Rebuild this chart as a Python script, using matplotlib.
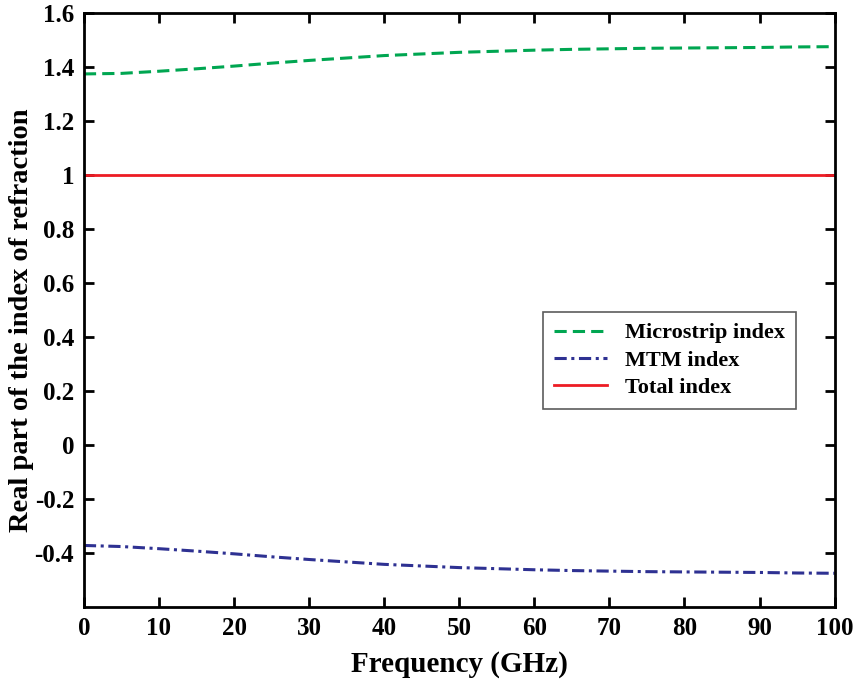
import matplotlib
matplotlib.use("Agg")
import matplotlib.pyplot as plt

freq = [0, 5, 10, 15, 20, 25, 30, 35, 40, 45, 50, 55, 60, 65, 70, 75, 80, 85, 90, 95, 100]
microstrip = [1.374, 1.376, 1.384, 1.393, 1.403, 1.414, 1.424, 1.433, 1.442, 1.448, 1.454, 1.458, 1.462, 1.465, 1.467, 1.469, 1.470, 1.471, 1.472, 1.474, 1.475]
mtm = [-0.372, -0.376, -0.384, -0.393, -0.403, -0.414, -0.424, -0.433, -0.442, -0.448, -0.454, -0.458, -0.462, -0.465, -0.467, -0.469, -0.470, -0.471, -0.472, -0.474, -0.475]
total = [1.0] * len(freq)

plt.rcParams['font.family'] = ['Liberation Serif', 'DejaVu Serif']

fig = plt.figure(figsize=(8.56, 6.79), dpi=100)
ax = fig.add_axes([0.098, 0.106, 0.877, 0.875])

ax.plot(freq, microstrip, color='#00a651', linestyle=(0, (4, 2.0)), linewidth=2.2, label='Microstrip index')
ax.plot(freq, mtm, color='#2e3192', linestyle=(0, (4, 1.5, 1, 1.5)), linewidth=2.2, label='MTM index')
ax.plot(freq, total, color='#ed1c24', linestyle='-', linewidth=2.0, label='Total index')

ax.set_xlim(0, 100)
ax.set_ylim(-0.6, 1.6)
ax.set_xticks(range(0, 101, 10))
ax.set_yticks([-0.4, -0.2, 0, 0.2, 0.4, 0.6, 0.8, 1, 1.2, 1.4, 1.6])
ax.set_yticklabels(['-0.4', '-0.2', '0', '0.2', '0.4', '0.6', '0.8', '1', '1.2', '1.4', '1.6'])
ax.tick_params(direction='in', top=True, right=True, length=7, width=2, labelsize=18, pad=7)
for lbl in ax.get_xticklabels() + ax.get_yticklabels():
    lbl.set_fontweight('bold')
for s in ax.spines.values():
    s.set_linewidth(2)

ax.set_xlabel('Frequency (GHz)', fontsize=21, fontweight='bold', labelpad=8)
ax.set_ylabel('Real part of the index of refraction', fontsize=20.5, fontweight='bold')
ax.yaxis.set_label_coords(-0.066, 0.483)

leg = ax.legend(loc='upper left', bbox_to_anchor=(0.611, 0.497), borderaxespad=0, frameon=True,
                fancybox=False, edgecolor='#333333', handlelength=2.4, borderpad=0.5,
                labelspacing=0.3, handletextpad=0.8, prop={'size': 16, 'weight': 'bold'})
leg.get_frame().set_linewidth(1.2)

fig.savefig('out.png', dpi=100)
